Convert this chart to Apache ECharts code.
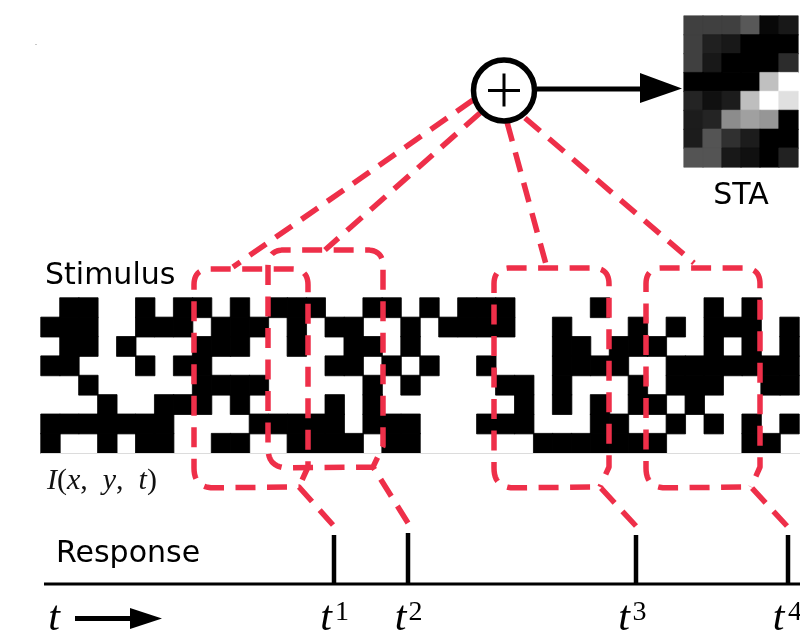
<!DOCTYPE html>
<html><head><meta charset="utf-8">
<style>html,body{margin:0;padding:0;background:#fff}#c{width:800px;height:637px}</style>
<script src="https://cdn.jsdelivr.net/npm/echarts@6/dist/echarts.min.js"></script>
</head><body><div id="c"></div>
<script>
// 1 = black cell, 0 = white cell; one string per row, one character per column
const stimulusRows = [
  "0110010110101110011010111000010000010100",
  "1110011101110101100101111001000101011101",
  "0110100011100100110100000001101110010101",
  "1100010110000001101010010001111001111111",
  "0010000011110000010100001101000101110011",
  "0001001110100001010000000101010110100000",
  "1111111000011111011100011100011001010101",
  "1001011001100111101100000011111110000110"
];
// STA grey levels, 0-255
const staRows = [
  [64,64,64,88,8,24],
  [64,32,24,0,0,0],
  [64,24,0,0,0,44],
  [0,0,0,0,192,255],
  [36,16,28,190,255,224],
  [28,36,140,160,150,0],
  [28,84,48,28,0,0],
  [84,84,24,16,0,34]
];
const spikeTimes = [334, 408, 636, 788];
const spikeTops = [535, 533, 535, 535];
const spikeLabels = ["1", "2", "3", "4"];
const spikeNameX = [326, 400.5, 624, 778.5];
const spikeSupX = [342, 415.5, 639.5, 795];
const responseBase = 584;
// dashed call-outs in page units: [x, y, cornerRadius]
const box1 = [[333,525,0],[299,487,0],[194,488,20],[194,269,16],[308,269,16],[308,467,0],[299,487,0]];
const box2 = [[408,523,0],[373,467,0],[268,468,20],[268,250,16],[383,250,16],[383,446,0],[373,467,0]];
const box3 = [[636,526,0],[600,487,0],[494,488,20],[494,268,16],[609,268,16],[609,467,0],[600,487,0]];
const box4 = [[787,526,0],[751,487,0],[646,488,20],[646,268,16],[760,268,16],[760,467,0],[751,487,0]];
const links = [
  [[473,100,0],[233,267,0]],
  [[480,113,0],[325,250,0]],
  [[507,122,0],[547,268,0]],
  [[525,118,0],[694,263,0]]
];
const plain = [
  ["Stimulus", 45, 276],
  ["STA", 741, 196],
  ["Response", 56, 554]
];

const stimData = [];
stimulusRows.forEach((r, y) => [...r].forEach((ch, x) => {
  const col = ch === "1" ? "#000" : "#fff";
  stimData.push({value:[x, y, +ch], itemStyle:{color:col, borderColor:col, borderWidth:ch === "1" ? 0.8 : 0}});
}));
stimData.sort((a, b) => a.value[2] - b.value[2]);
const staData = [];
staRows.forEach((r, y) => r.forEach((v, x) => {
  const col = `rgb(${v},${v},${v})`;
  staData.push({value:[x, y, v], itemStyle:{color:col, borderColor:col, borderWidth:0.6}});
}));
const idx = n => Array.from({length:n}, (_, i) => String(i));

function rounded(path) {
  const out = [];
  path.forEach((p, i) => {
    const r = p[2];
    if (!r || i === 0 || i === path.length - 1) { out.push([p[0], p[1]]); return; }
    const a = path[i-1], b = path[i+1];
    const da = Math.hypot(a[0]-p[0], a[1]-p[1]), db = Math.hypot(b[0]-p[0], b[1]-p[1]);
    const s = [p[0]+(a[0]-p[0])*r/da, p[1]+(a[1]-p[1])*r/da];
    const e = [p[0]+(b[0]-p[0])*r/db, p[1]+(b[1]-p[1])*r/db];
    for (let k = 0; k <= 12; k++) {
      const t = k/12, u = 1-t;
      out.push([u*u*s[0]+2*u*t*p[0]+t*t*e[0], u*u*s[1]+2*u*t*p[1]+t*t*e[1]]);
    }
  });
  return out;
}
const hiddenCat = (data, gridIndex, extra) => Object.assign({type:"category", data, gridIndex, show:false}, extra || {});
const polyItem = (api, pts, style) => ({type:"polyline", shape:{points:pts.map(p => api.coord(p))}, style});
const RED = "#ee2f49";
const SERIF = "Liberation Serif";

const redPaths = [box1, box2, box3, box4].concat(links);

// math text pieces: text, x centre, y centre, size, italic
const mathText = [["t", 54, 619, 42, true]];
spikeTimes.forEach((t, i) => {
  mathText.push(["t", spikeNameX[i], 619, 42, true]);
  mathText.push([spikeLabels[i], spikeSupX[i], 613, 28, false]);
});

const option = {
  animation:false,
  backgroundColor:"#fff",
  grid:[
    {left:41, top:298, width:758, height:155},
    {left:684, top:16, width:114, height:151},
    {left:0, top:0, width:800, height:637}
  ],
  xAxis:[
    hiddenCat(idx(40), 0),
    hiddenCat(idx(6), 1),
    {type:"value", gridIndex:2, min:0, max:800, show:false}
  ],
  yAxis:[
    hiddenCat(idx(8), 0, {inverse:true}),
    hiddenCat(idx(8), 1, {inverse:true}),
    {type:"value", gridIndex:2, min:0, max:637, inverse:true, show:false}
  ],
  series:[
    {type:"heatmap", xAxisIndex:0, yAxisIndex:0, data:stimData, silent:true},
    {type:"heatmap", xAxisIndex:1, yAxisIndex:1, data:staData, silent:true},
    {
      type:"custom", xAxisIndex:2, yAxisIndex:2, silent:true, clip:false,
      data:[[0]],
      renderItem:(p, api) => ({type:"group", children:[
        polyItem(api, [[41,453.5],[800,453.5]], {stroke:"#dcdcdc", lineWidth:1, fill:"none"}),
        polyItem(api, [[35,44.5],[37,44.5]], {stroke:"#c8c8c8", lineWidth:1, fill:"none"}),
        polyItem(api, [[44,responseBase],[800,responseBase]], {stroke:"#000", lineWidth:3, fill:"none"}),
        polyItem(api, [[75,618.5],[132,618.5]], {stroke:"#000", lineWidth:5, fill:"none"}),
        {type:"polygon", shape:{points:[[130,608],[162,618.5],[130,629]].map(q => api.coord(q))}, style:{fill:"#000"}},
        polyItem(api, [[537,89],[642,89]], {stroke:"#000", lineWidth:5, fill:"none"}),
        {type:"polygon", shape:{points:[[640,73],[682,88.5],[640,103]].map(q => api.coord(q))}, style:{fill:"#000"}}
      ]})
    },
    {
      type:"custom", xAxisIndex:2, yAxisIndex:2, silent:true, clip:false,
      data:spikeTimes.map((t, i) => [t, spikeTops[i]]),
      renderItem:(p, api) => polyItem(api, [[api.value(0), api.value(1)],[api.value(0), responseBase]], {stroke:"#000", lineWidth:4.5, fill:"none"})
    },
    {
      type:"custom", xAxisIndex:2, yAxisIndex:2, silent:true, clip:false,
      data:redPaths.map((_, i) => [i]),
      renderItem:(p, api) => polyItem(api, rounded(redPaths[api.value(0)]), {stroke:RED, lineWidth:5.5, fill:"none", lineDash:[20,11.5], lineCap:"butt", lineJoin:"round"})
    },
    {
      type:"custom", xAxisIndex:2, yAxisIndex:2, silent:true, clip:false,
      data:[[504,90.5]],
      renderItem:(p, api) => {
        const c = api.coord([api.value(0), api.value(1)]);
        return {type:"group", children:[
          {type:"circle", shape:{cx:c[0], cy:c[1], r:30.5}, style:{fill:"#fff", stroke:"#000", lineWidth:5.5}},
          {type:"line", shape:{x1:c[0]-16, y1:c[1], x2:c[0]+16, y2:c[1]}, style:{stroke:"#000", lineWidth:3}},
          {type:"line", shape:{x1:c[0], y1:c[1]-17, x2:c[0], y2:c[1]+16}, style:{stroke:"#000", lineWidth:3}}
        ]};
      }
    },
    {
      type:"custom", xAxisIndex:2, yAxisIndex:2, silent:true, clip:false,
      data:plain.map((l, i) => [l[1], l[2], i]),
      renderItem:(p, api) => {
        const l = plain[api.value(2)], c = api.coord([l[1], l[2]]);
        return {type:"text", x:c[0], y:c[1], style:{text:l[0], fontFamily:"DejaVu Sans", fontSize:30, fill:"#000", align:l[0]==="STA"?"center":"left", verticalAlign:"middle"}};
      }
    },
    {
      type:"custom", xAxisIndex:2, yAxisIndex:2, silent:true, clip:false,
      data:mathText.map((m, i) => [m[1], m[2], i]),
      renderItem:(p, api) => {
        const m = mathText[api.value(2)], c = api.coord([m[1], m[2]]);
        return {type:"text", x:c[0], y:c[1], style:{text:m[0], fontFamily:SERIF, fontStyle:m[4]?"italic":"normal", fontSize:m[3], fill:"#000", align:"center", verticalAlign:"middle"}};
      }
    },
    {
      type:"custom", xAxisIndex:2, yAxisIndex:2, silent:true, clip:false,
      data:[[47,481]],
      renderItem:(p, api) => {
        const c = api.coord([api.value(0), api.value(1)]);
        const i = {fontFamily:SERIF, fontStyle:"italic", fontSize:30, fill:"#111"};
        const n = {fontFamily:SERIF, fontSize:30, fill:"#111"};
        return {type:"text", x:c[0], y:c[1], style:{text:"{i|I}{p|(}{i|x}{p|,  }{i|y}{p|,  }{i|t}{p|)}", rich:{i, p:n}, verticalAlign:"middle", align:"left"}};
      }
    }
  ]
};
echarts.init(document.getElementById("c"), null, {renderer:"canvas"}).setOption(option);
</script></body></html>
